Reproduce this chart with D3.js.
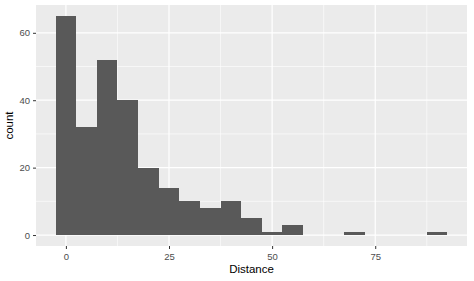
<!DOCTYPE html>
<meta charset="utf-8">
<style>
body { margin: 0; background: #fff; }
text { font-family: "Liberation Sans", Arial, sans-serif; }
.tick text { fill: #4d4d4d; font-size: 9.5px; }
.axis-title { fill: #000; font-size: 11.5px; }
</style>
<body>
<svg id="chart"></svg>
<script src="https://d3js.org/d3.v7.min.js"></script>
<script>
// histogram bins (binwidth 5, centred on the values below)
var binCenters = [0, 5, 10, 15, 20, 25, 30, 35, 40, 45, 50, 55, 60, 65, 70, 75, 80, 85, 90];
var binCounts  = [65, 32, 52, 40, 20, 14, 10, 8, 10, 5, 1, 3, 0, 0, 1, 0, 0, 0, 1];
var binWidth = 5;
var xTicks = [0, 25, 50, 75];
var yTicks = [0, 20, 40, 60];
var xMinor = [12.5, 37.5, 62.5, 87.5];
var yMinor = [10, 30, 50];

var width = 474, height = 281;
var margin = {top: 5, right: 7, bottom: 35, left: 36};
var w = width - margin.left - margin.right;
var h = height - margin.top - margin.bottom;

var svg = d3.select("#chart").attr("width", width).attr("height", height);
var g = svg.append("g").attr("transform", "translate(" + margin.left + "," + margin.top + ")");

// ggplot style 5% expansion
var xlo = binCenters[0] - binWidth / 2, xhi = binCenters[binCenters.length - 1] + binWidth / 2;
var xpad = (xhi - xlo) * 0.05;
var x = d3.scaleLinear().domain([xlo - xpad, xhi + xpad]).range([0, w]);
var ymax = d3.max(binCounts);
var y = d3.scaleLinear().domain([-ymax * 0.05, ymax * 1.05]).range([h, 0]);

// panel
g.append("rect").attr("width", w).attr("height", h).attr("fill", "#ebebeb");

// grid
g.selectAll(".xminor").data(xMinor).enter().append("line")
  .attr("x1", d => x(d)).attr("x2", d => x(d)).attr("y1", 0).attr("y2", h)
  .attr("stroke", "#fff").attr("stroke-width", 0.6);
g.selectAll(".yminor").data(yMinor).enter().append("line")
  .attr("y1", d => y(d)).attr("y2", d => y(d)).attr("x1", 0).attr("x2", w)
  .attr("stroke", "#fff").attr("stroke-width", 0.6);
g.selectAll(".xmajor").data(xTicks).enter().append("line")
  .attr("x1", d => x(d)).attr("x2", d => x(d)).attr("y1", 0).attr("y2", h)
  .attr("stroke", "#fff").attr("stroke-width", 1.2);
g.selectAll(".ymajor").data(yTicks).enter().append("line")
  .attr("y1", d => y(d)).attr("y2", d => y(d)).attr("x1", 0).attr("x2", w)
  .attr("stroke", "#fff").attr("stroke-width", 1.2);

// bars (crisp edges so neighbouring bins don't leave a seam)
g.selectAll(".bar").data(binCenters.map((c, i) => ({c: c, n: binCounts[i]})).filter(d => d.n > 0))
  .enter().append("rect")
  .attr("x", d => x(d.c - binWidth / 2))
  .attr("width", d => x(d.c + binWidth / 2) - x(d.c - binWidth / 2))
  .attr("y", d => y(d.n))
  .attr("height", d => y(0) - y(d.n))
  .attr("fill", "#595959")
  .attr("shape-rendering", "crispEdges");

// axes
var xAxis = g.append("g").attr("transform", "translate(0," + h + ")")
  .call(d3.axisBottom(x).tickValues(xTicks).tickSize(3).tickPadding(4).tickFormat(d3.format("d")));
var yAxis = g.append("g")
  .call(d3.axisLeft(y).tickValues(yTicks).tickSize(3).tickPadding(3).tickFormat(d3.format("d")));
[xAxis, yAxis].forEach(a => {
  a.select(".domain").remove();
  a.selectAll(".tick line").attr("stroke", "#333");
});

svg.append("text").attr("class", "axis-title")
  .attr("x", margin.left + w / 2).attr("y", height - 8)
  .attr("text-anchor", "middle").text("Distance");
svg.append("text").attr("class", "axis-title")
  .attr("transform", "translate(13," + (margin.top + h / 2) + ") rotate(-90)")
  .attr("text-anchor", "middle").text("count");
</script>
</body>
